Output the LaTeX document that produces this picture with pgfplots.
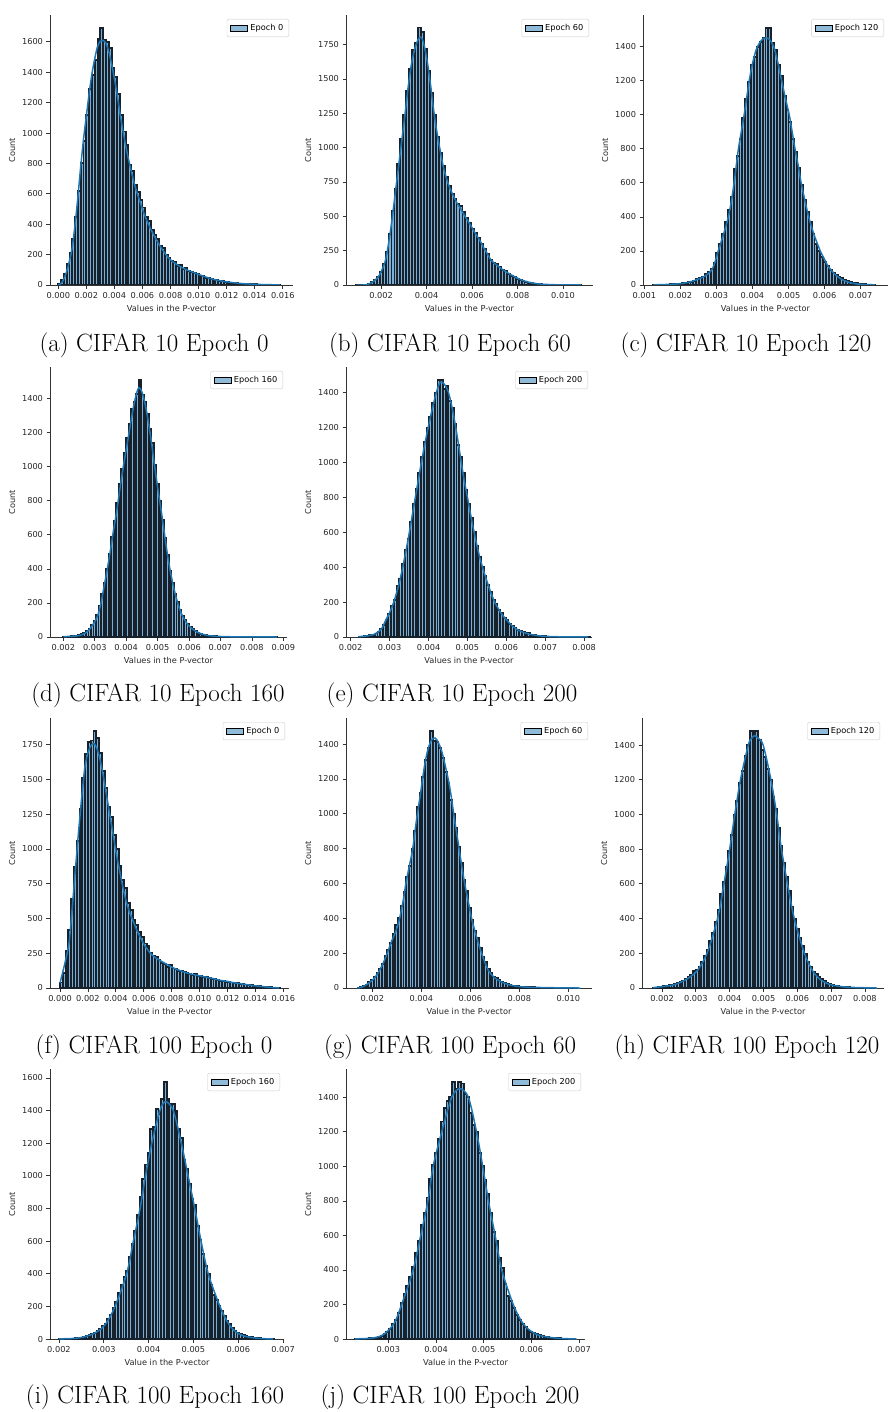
\documentclass[border=0pt]{standalone}
\usepackage{fontspec}
\usepackage{pgfplots}
\usepackage{pgfplotstable}
\pgfplotsset{compat=1.18}
\newfontfamily\dejavu{DejaVu Sans}
\newcommand\tickfont{\dejavu\fontsize{8.2}{9.8}\selectfont}
\definecolor{histfill}{HTML}{8FBBD9}
\definecolor{barfill}{HTML}{7AAED4}
\definecolor{histedge}{HTML}{16212C}
\definecolor{kdeblue}{HTML}{1F77B4}

% bin counts, one column per panel (bins of fixed width, see x expr below)
\pgfplotstableread[row sep=\\]{c\\5\\30\\75\\140\\210\\300\\450\\620\\800\\950\\1120\\1290\\1385\\1480\\1620\\1690\\1610\\1600\\1560\\1430\\1370\\1260\\1120\\1010\\920\\790\\750\\660\\610\\560\\510\\450\\420\\360\\330\\300\\260\\245\\200\\180\\160\\150\\125\\130\\105\\110\\90\\85\\78\\70\\62\\58\\48\\44\\38\\35\\30\\28\\24\\20\\20\\15\\14\\12\\10\\9\\7\\6\\6\\5\\4\\3\\3\\2\\2\\2\\1\\1\\1\\}\hA
\pgfplotstableread[row sep=\\]{c\\1\\1\\1\\2\\8\\20\\40\\60\\95\\150\\240\\370\\540\\700\\880\\1060\\1240\\1410\\1570\\1710\\1760\\1875\\1840\\1720\\1560\\1400\\1240\\1080\\960\\870\\790\\720\\660\\630\\590\\575\\530\\490\\450\\410\\380\\340\\300\\265\\225\\185\\160\\150\\130\\110\\100\\80\\65\\55\\45\\35\\28\\22\\15\\12\\9\\6\\5\\4\\3\\2\\2\\1\\1\\1\\1\\0\\1\\0\\0\\1\\}\hB
\pgfplotstableread[row sep=\\]{c\\1\\1\\2\\2\\3\\3\\4\\5\\6\\8\\10\\14\\18\\20\\25\\35\\40\\50\\62\\75\\95\\130\\190\\240\\300\\370\\440\\520\\680\\760\\860\\980\\1090\\1190\\1290\\1340\\1400\\1430\\1450\\1510\\1510\\1420\\1380\\1290\\1230\\1110\\1030\\960\\860\\780\\690\\590\\500\\430\\370\\300\\240\\200\\165\\135\\110\\90\\70\\60\\48\\40\\32\\25\\18\\14\\10\\8\\6\\4\\3\\2\\1\\}\hC
\pgfplotstableread[row sep=\\]{c\\2\\2\\3\\4\\5\\7\\10\\16\\24\\35\\48\\68\\95\\130\\185\\250\\320\\400\\490\\590\\680\\790\\900\\990\\1080\\1170\\1250\\1340\\1380\\1430\\1510\\1420\\1380\\1310\\1220\\1140\\1010\\900\\800\\690\\580\\480\\390\\320\\250\\205\\160\\125\\100\\78\\58\\45\\34\\26\\20\\15\\11\\8\\6\\5\\4\\3\\2\\2\\2\\1\\1\\1\\1\\0\\1\\0\\1\\0\\0\\1\\0\\0\\0\\1\\0\\0\\0\\0\\1\\}\hD
\pgfplotstableread[row sep=\\]{c\\2\\3\\5\\7\\10\\14\\20\\30\\45\\70\\100\\130\\180\\210\\290\\330\\420\\500\\560\\660\\760\\850\\940\\1030\\1120\\1200\\1260\\1340\\1400\\1470\\1475\\1420\\1440\\1350\\1310\\1220\\1100\\1030\\940\\840\\760\\680\\600\\520\\460\\400\\350\\300\\260\\215\\190\\155\\140\\110\\95\\75\\65\\50\\42\\34\\28\\22\\25\\14\\10\\8\\6\\5\\4\\3\\3\\2\\2\\1\\2\\1\\1\\0\\1\\0\\0\\1\\0\\0\\1\\}\hE
\pgfplotstableread[row sep=\\]{c\\40\\110\\270\\420\\640\\870\\1060\\1290\\1510\\1680\\1770\\1780\\1850\\1800\\1690\\1560\\1440\\1300\\1230\\1100\\1000\\880\\780\\720\\610\\560\\490\\450\\400\\370\\320\\300\\250\\230\\220\\200\\180\\175\\150\\165\\140\\135\\125\\120\\115\\105\\100\\95\\98\\88\\85\\82\\78\\72\\68\\62\\55\\50\\48\\45\\42\\40\\35\\33\\30\\28\\25\\22\\20\\18\\15\\12\\10\\8\\6\\5\\4\\3\\2\\}\hF
\pgfplotstableread[row sep=\\]{c\\2\\5\\10\\20\\32\\45\\65\\85\\110\\140\\185\\220\\260\\310\\360\\400\\470\\550\\640\\700\\800\\900\\1040\\1120\\1210\\1310\\1380\\1476\\1420\\1410\\1380\\1320\\1240\\1180\\1080\\1000\\920\\810\\720\\620\\560\\460\\390\\330\\290\\230\\180\\150\\110\\85\\62\\55\\45\\35\\28\\22\\18\\14\\12\\10\\8\\6\\6\\5\\4\\4\\3\\3\\2\\2\\2\\1\\1\\1\\1\\1\\0\\1\\0\\1\\}\hG
\pgfplotstableread[row sep=\\]{c\\2\\3\\5\\8\\10\\12\\15\\18\\22\\28\\35\\42\\50\\62\\75\\100\\105\\120\\150\\185\\220\\270\\320\\380\\450\\540\\610\\700\\790\\880\\1000\\1080\\1180\\1250\\1340\\1400\\1480\\1440\\1480\\1430\\1370\\1330\\1260\\1200\\1100\\1030\\920\\820\\720\\640\\560\\470\\400\\340\\290\\240\\195\\150\\120\\95\\80\\65\\50\\38\\28\\22\\17\\13\\10\\8\\6\\5\\4\\3\\2\\2\\2\\1\\1\\1\\1\\1\\}\hH
\pgfplotstableread[row sep=\\]{c\\1\\1\\2\\2\\3\\3\\4\\6\\8\\12\\16\\22\\28\\36\\48\\60\\80\\92\\125\\150\\190\\230\\280\\330\\380\\420\\500\\580\\660\\760\\870\\980\\1070\\1140\\1290\\1300\\1410\\1380\\1470\\1575\\1470\\1440\\1440\\1400\\1290\\1230\\1100\\1040\\950\\860\\820\\690\\610\\520\\450\\400\\330\\270\\240\\205\\170\\140\\110\\90\\70\\50\\40\\30\\22\\18\\13\\10\\7\\5\\4\\3\\2\\2\\1\\1\\}\hI
\pgfplotstableread[row sep=\\]{c\\1\\1\\2\\2\\3\\4\\6\\9\\14\\20\\32\\42\\60\\85\\110\\150\\210\\260\\310\\360\\420\\500\\570\\660\\730\\820\\930\\1010\\1080\\1160\\1260\\1340\\1380\\1400\\1490\\1450\\1490\\1480\\1420\\1400\\1310\\1240\\1200\\1080\\1000\\920\\840\\730\\620\\570\\470\\410\\320\\250\\220\\180\\140\\110\\85\\70\\55\\42\\35\\28\\22\\18\\13\\10\\8\\6\\5\\4\\3\\2\\2\\1\\1\\}\hJ

\pgfplotsset{
  panel/.style={
    scale only axis, anchor=south west,
    axis x line*=bottom, axis y line*=left,
    axis line style={-, draw=black!80, line width=0.9pt},
    tick align=outside, major tick length=3.5pt,
    tick style={draw=black!80, line width=0.8pt},
    ymin=0, clip=true,
    scaled x ticks=false, scaled y ticks=false,
    xticklabel style={/pgf/number format/.cd, fixed, fixed zerofill, precision=3},
    yticklabel style={/pgf/number format/.cd, fixed, precision=0, 1000 sep={}},
    /pgf/number format/assume math mode=true,
    tick label style={font=\tickfont, text=black!85},
    label style={font=\tickfont, text=black!85},
    ylabel={Count},
    legend cell align=left,
    legend style={at={(1,1)}, anchor=north east, xshift=-4pt, yshift=-4pt,
      draw=black!20, rounded corners=2pt, fill=white, font=\tickfont,
      inner xsep=3.5pt, inner ysep=3pt},
  },
  hist/.style={ybar, fill=barfill, draw=histedge, line width=1.9pt,
    legend image code/.code={\draw[sharp corners, fill=histfill, draw=black, line width=0.9pt] (0pt,-3pt) rectangle (17pt,3pt);}},
  kde/.style={draw=kdeblue, line width=1.5pt, smooth, forget plot, mark=none},
}
\tikzset{subcap/.style={font=\fontsize{25}{29}\selectfont, anchor=center, inner sep=0pt}}

\begin{document}
\begin{tikzpicture}
\path (0pt,0pt) rectangle (890pt,-1412pt);

% (a)
\begin{axis}[panel, at={(50pt,-285pt)}, width=243pt, height=270pt,
  xmin=-0.00059, xmax=0.01673, ymax=1777,
  xtick={0,0.002,0.004,0.006,0.008,0.010,0.012,0.014,0.016}, ytick={0,200,...,1600},
  xlabel={Values in the P-vector}]
\addplot[hist, bar width=0.0002] table[x expr=0.0001+\coordindex*0.0002, y=c] {\hA};
\addlegendentry{Epoch 0}
\addplot[kde] coordinates {(0,0) (0.0002,10) (0.0004,40) (0.0006,90) (0.0008,160) (0.0010,250) (0.0012,400) (0.0014,580) (0.0016,780) (0.0018,960) (0.0020,1110) (0.0022,1260) (0.0024,1390) (0.0026,1490) (0.0028,1570) (0.0030,1605) (0.0032,1610) (0.0034,1590) (0.0036,1535) (0.0038,1455) (0.0040,1360) (0.0042,1250) (0.0044,1130) (0.0046,1020) (0.0048,920) (0.0050,830) (0.0052,750) (0.0054,675) (0.0056,610) (0.0058,555) (0.0060,500) (0.0062,450) (0.0064,405) (0.0066,365) (0.0068,330) (0.0070,295) (0.0072,265) (0.0074,235) (0.0076,210) (0.0078,185) (0.0080,165) (0.0084,138) (0.0088,116) (0.0092,98) (0.0096,84) (0.0100,70) (0.0104,56) (0.0108,44) (0.0112,34) (0.0116,27) (0.0120,21) (0.0125,15) (0.0130,10) (0.0135,7) (0.0140,5) (0.0145,3) (0.0150,2) (0.0158,1)};
\end{axis}
\node[subcap] at (154pt,-345pt) {(a) CIFAR 10 Epoch 0};

% (b)
\begin{axis}[panel, at={(346pt,-285pt)}, width=247pt, height=270pt,
  xmin=0.00046, xmax=0.01132, ymax=1966,
  xtick={0.002,0.004,0.006,0.008,0.010}, ytick={0,250,...,1750},
  xlabel={Values in the P-vector}]
\addplot[hist, bar width=0.00013] table[x expr=0.000965+\coordindex*0.00013, y=c] {\hB};
\addlegendentry{Epoch 60}
\addplot[kde] coordinates {(0.00093,0) (0.00137,2) (0.00166,25) (0.00188,60) (0.00200,95) (0.00218,170) (0.00232,290) (0.00247,460) (0.00262,660) (0.00276,850) (0.00291,1050) (0.00306,1250) (0.00320,1450) (0.00335,1620) (0.00350,1730) (0.00364,1790) (0.00375,1805) (0.00386,1770) (0.00401,1650) (0.00416,1480) (0.00430,1290) (0.00445,1120) (0.00460,980) (0.00474,860) (0.00489,770) (0.00504,700) (0.00518,650) (0.00533,600) (0.00548,560) (0.00562,520) (0.00577,480) (0.00592,440) (0.00606,400) (0.00621,360) (0.00636,320) (0.00650,275) (0.00665,235) (0.00680,190) (0.00694,165) (0.00709,145) (0.00724,125) (0.00746,100) (0.00768,78) (0.00790,58) (0.00812,40) (0.00841,24) (0.00871,13) (0.00915,5) (0.00988,1) (0.01080,0)};
\end{axis}
\node[subcap] at (450pt,-345pt) {(b) CIFAR 10 Epoch 60};

% (c)
\begin{axis}[panel, at={(643pt,-285pt)}, width=245pt, height=270pt,
  xmin=0.000963, xmax=0.00776, ymax=1586,
  xtick={0.001,0.002,0.003,0.004,0.005,0.006,0.007}, ytick={0,200,...,1400},
  xlabel={Values in the P-vector}]
\addplot[hist, bar width=0.00008] table[x expr=0.00128+\coordindex*0.00008, y=c] {\hC};
\addlegendentry{Epoch 120}
\addplot[kde] coordinates {(0.00125,1) (0.0016,3) (0.0019,6) (0.0021,11) (0.0023,20) (0.0025,35) (0.0027,55) (0.0029,100) (0.00305,200) (0.0032,300) (0.00333,400) (0.00342,500) (0.00349,600) (0.00355,700) (0.00361,800) (0.00369,900) (0.00377,1000) (0.00384,1100) (0.00391,1200) (0.00400,1300) (0.00410,1380) (0.00419,1420) (0.00430,1448) (0.00439,1452) (0.00448,1440) (0.00459,1400) (0.00470,1310) (0.00481,1200) (0.00491,1100) (0.00502,1000) (0.00510,900) (0.00518,800) (0.00527,700) (0.00535,600) (0.00545,500) (0.00556,400) (0.00570,300) (0.00588,200) (0.0060,150) (0.0061,110) (0.0063,60) (0.0065,30) (0.0067,14) (0.0069,6) (0.0071,3) (0.0074,1)};
\end{axis}
\node[subcap] at (746pt,-345pt) {(c) CIFAR 10 Epoch 120};

% (d)
\begin{axis}[panel, at={(50pt,-637pt)}, width=237pt, height=270pt,
  xmin=0.001576, xmax=0.009117, ymax=1586,
  xtick={0.002,0.003,0.004,0.005,0.006,0.007,0.008,0.009}, ytick={0,200,...,1400},
  xlabel={Values in the P-vector}]
\addplot[hist, bar width=0.00008] table[x expr=0.00204+\coordindex*0.00008, y=c] {\hD};
\addlegendentry{Epoch 160}
\addplot[kde] coordinates {(0.0020,2) (0.0024,6) (0.0026,14) (0.0028,38) (0.0030,90) (0.0031,130) (0.0032,200) (0.0033,300) (0.0034,400) (0.0035,510) (0.0036,630) (0.0037,740) (0.0038,870) (0.0039,990) (0.0040,1100) (0.0041,1210) (0.0042,1320) (0.0043,1410) (0.0044,1465) (0.0045,1440) (0.0046,1370) (0.0047,1270) (0.0048,1150) (0.0049,1010) (0.0050,880) (0.0051,760) (0.0052,630) (0.0053,500) (0.0054,390) (0.0055,300) (0.0056,225) (0.0057,165) (0.0058,120) (0.0059,90) (0.0060,65) (0.0062,35) (0.0064,18) (0.0066,9) (0.0068,5) (0.0070,3) (0.0075,1) (0.0088,0)};
\end{axis}
\node[subcap] at (158pt,-695pt) {(d) CIFAR 10 Epoch 160};

% (e)
\begin{axis}[panel, at={(346pt,-637pt)}, width=246pt, height=270pt,
  xmin=0.00188, xmax=0.0082, ymax=1547,
  xtick={0.002,0.003,0.004,0.005,0.006,0.007,0.008}, ytick={0,200,...,1400},
  xlabel={Values in the P-vector}]
\addplot[hist, bar width=0.00007] table[x expr=0.002235+\coordindex*0.00007, y=c] {\hE};
\addlegendentry{Epoch 200}
\addplot[kde] coordinates {(0.0022,2) (0.0024,6) (0.0026,15) (0.0027,28) (0.0028,50) (0.0029,95) (0.0030,140) (0.0031,195) (0.0032,270) (0.0033,360) (0.0034,470) (0.0035,590) (0.0036,720) (0.0037,850) (0.0038,980) (0.0039,1100) (0.0040,1210) (0.0041,1310) (0.0042,1400) (0.0043,1460) (0.0044,1450) (0.0045,1410) (0.0046,1320) (0.0047,1200) (0.0048,1060) (0.0049,920) (0.0050,800) (0.0051,680) (0.0052,570) (0.0053,470) (0.0054,390) (0.0055,320) (0.0056,255) (0.0057,200) (0.0058,160) (0.0059,125) (0.0060,100) (0.0061,75) (0.0062,55) (0.0063,40) (0.0064,30) (0.0065,22) (0.0066,16) (0.0068,8) (0.0070,4) (0.0072,2) (0.0075,1) (0.0081,0)};
\end{axis}
\node[subcap] at (452pt,-695pt) {(e) CIFAR 10 Epoch 200};

% (f)
\begin{axis}[panel, at={(50pt,-988pt)}, width=239pt, height=270pt,
  xmin=-0.000718, xmax=0.016407, ymax=1942,
  xtick={0,0.002,0.004,0.006,0.008,0.010,0.012,0.014,0.016}, ytick={0,250,...,1750},
  xlabel={Value in the P-vector}]
\addplot[hist, bar width=0.0002] table[x expr=0.0001+\coordindex*0.0002, y=c] {\hF};
\addlegendentry{Epoch 0}
\addplot[kde] coordinates {(0,36) (0.0006,295) (0.00084,535) (0.00108,825) (0.00132,1113) (0.00156,1377) (0.00179,1594) (0.00203,1702) (0.00227,1750) (0.00244,1757) (0.00263,1726) (0.00287,1642) (0.00311,1522) (0.00335,1377) (0.00359,1233) (0.00383,1089) (0.00407,945) (0.00431,825) (0.00455,704) (0.00478,608) (0.00502,536) (0.00526,476) (0.0055,416) (0.00574,368) (0.00598,320) (0.00622,284) (0.00646,252) (0.0067,228) (0.00706,204) (0.00742,183) (0.00778,163) (0.00813,144) (0.00861,125) (0.00909,108) (0.00957,96) (0.01005,87) (0.01053,77) (0.011,67) (0.01148,55) (0.01196,48) (0.01244,38) (0.01292,31) (0.0134,24) (0.01388,17) (0.01435,12) (0.01483,7) (0.01531,3) (0.0157,1)};
\end{axis}
\node[subcap] at (154pt,-1047pt) {(f) CIFAR 100 Epoch 0};

% (g)
\begin{axis}[panel, at={(346pt,-988pt)}, width=246pt, height=270pt,
  xmin=0.000925, xmax=0.010966, ymax=1550,
  xtick={0.002,0.004,0.006,0.008,0.010}, ytick={0,200,...,1400},
  xlabel={Value in the P-vector}]
\addplot[hist, bar width=0.00011] table[x expr=0.001455+\coordindex*0.00011, y=c] {\hG};
\addlegendentry{Epoch 60}
\addplot[kde] coordinates {(0.00139,0) (0.00163,8) (0.00177,20) (0.00191,35) (0.00204,50) (0.00218,75) (0.00229,100) (0.00245,145) (0.00261,200) (0.00279,270) (0.00297,330) (0.00313,410) (0.00327,510) (0.00337,600) (0.00351,700) (0.00365,800) (0.00374,900) (0.00384,1000) (0.00395,1100) (0.00405,1200) (0.00416,1300) (0.00429,1380) (0.00442,1425) (0.00456,1435) (0.00469,1410) (0.00483,1360) (0.00497,1280) (0.00511,1190) (0.00522,1100) (0.00532,1000) (0.00543,900) (0.00554,800) (0.00565,700) (0.00577,600) (0.00591,500) (0.00605,400) (0.00626,290) (0.00646,200) (0.0066,145) (0.00674,100) (0.00691,70) (0.00708,50) (0.00735,30) (0.00755,20) (0.00789,10) (0.0083,5) (0.00884,3) (0.00966,1) (0.01048,0)};
\end{axis}
\node[subcap] at (450pt,-1047pt) {(g) CIFAR 100 Epoch 60};

% (h)
\begin{axis}[panel, at={(642pt,-988pt)}, width=242pt, height=270pt,
  xmin=0.001408, xmax=0.008563, ymax=1556,
  xtick={0.002,0.003,0.004,0.005,0.006,0.007,0.008}, ytick={0,200,...,1400},
  xlabel={Value in the P-vector}]
\addplot[hist, bar width=0.00008] table[x expr=0.00176+\coordindex*0.00008, y=c] {\hH};
\addlegendentry{Epoch 120}
\addplot[kde] coordinates {(0.00173,2) (0.00208,10) (0.00238,20) (0.00272,50) (0.00304,100) (0.00333,200) (0.00364,400) (0.00383,600) (0.00400,800) (0.00415,1000) (0.00432,1200) (0.00455,1400) (0.00465,1440) (0.00474,1454) (0.00484,1440) (0.00499,1400) (0.00522,1200) (0.00539,1000) (0.00553,800) (0.00571,600) (0.00591,400) (0.00621,200) (0.00645,100) (0.00667,50) (0.00697,20) (0.00746,5) (0.00835,0)};
\end{axis}
\node[subcap] at (747pt,-1047pt) {(h) CIFAR 100 Epoch 120};

% (i)
\begin{axis}[panel, at={(50pt,-1339pt)}, width=234pt, height=270pt,
  xmin=0.0018, xmax=0.00702, ymax=1655,
  xtick={0.002,0.003,0.004,0.005,0.006,0.007}, ytick={0,200,...,1600},
  xlabel={Value in the P-vector}]
\addplot[hist, bar width=0.00006] table[x expr=0.00203+\coordindex*0.00006, y=c] {\hI};
\addlegendentry{Epoch 160}
\addplot[kde] coordinates {(0.0020,1) (0.00239,5) (0.00265,20) (0.00288,50) (0.00306,100) (0.00325,200) (0.00351,400) (0.00366,600) (0.00381,800) (0.00393,1000) (0.00407,1200) (0.00425,1400) (0.00438,1455) (0.00455,1400) (0.00473,1200) (0.00488,1000) (0.00503,800) (0.00517,600) (0.00533,400) (0.00559,200) (0.00577,100) (0.00592,50) (0.00611,20) (0.00641,5) (0.00678,0)};
\end{axis}
\node[subcap] at (155pt,-1397pt) {(i) CIFAR 100 Epoch 160};

% (j)
\begin{axis}[panel, at={(346pt,-1339pt)}, width=239pt, height=270pt,
  xmin=0.002112, xmax=0.007126, ymax=1564,
  xtick={0.003,0.004,0.005,0.006,0.007}, ytick={0,200,...,1400},
  xlabel={Value in the P-vector}]
\addplot[hist, bar width=0.00006] table[x expr=0.00233+\coordindex*0.00006, y=c] {\hJ};
\addlegendentry{Epoch 200}
\addplot[kde] coordinates {(0.0023,1) (0.00265,5) (0.00286,20) (0.0030,50) (0.00314,100) (0.00328,200) (0.00352,400) (0.00368,600) (0.00383,800) (0.00394,1000) (0.00412,1200) (0.00433,1400) (0.0045,1450) (0.00468,1400) (0.00485,1200) (0.00498,1000) (0.0051,800) (0.00524,600) (0.00538,400) (0.00562,200) (0.0058,100) (0.00597,50) (0.00618,20) (0.00653,5) (0.00695,0)};
\end{axis}
\node[subcap] at (450pt,-1397pt) {(j) CIFAR 100 Epoch 200};

\end{tikzpicture}
\end{document}
